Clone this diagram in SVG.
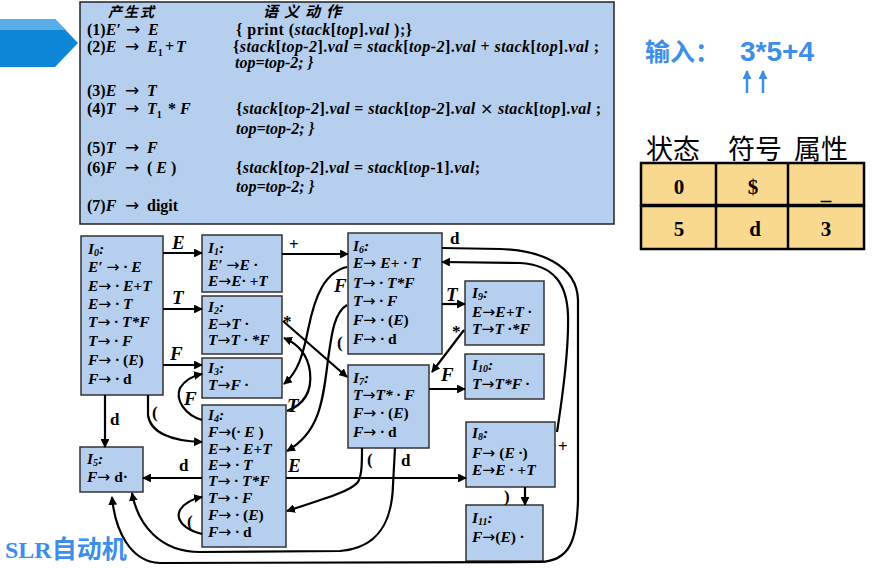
<svg xmlns="http://www.w3.org/2000/svg" width="878" height="568" viewBox="0 0 878 568">
<style>
.bx{fill:#b7cfee;stroke:#333;stroke-width:1.5}
.g{font-family:"Liberation Serif",serif;font-weight:bold;font-size:16px;fill:#000}
.i{font-style:italic}
.nt{font-family:"Liberation Serif",serif;font-weight:bold;font-style:italic;font-size:15.5px;fill:#000}
.u{font-style:normal}
.ar{font-family:"DejaVu Sans",sans-serif;font-weight:normal;font-style:normal}
.sub{font-size:10px}
.edge{fill:none;stroke:#000;stroke-width:2.2;marker-end:url(#arr)}
.el{font-family:"Liberation Serif",serif;font-weight:bold;font-style:italic;font-size:19px;fill:#000}
.elu{font-family:"Liberation Serif",serif;font-weight:bold;font-size:17px;fill:#000}
.cjk{font-family:"Noto Sans CJK SC",sans-serif}
.blue{fill:#3c8ee8}
.cell{fill:#f9d98f;stroke:#000;stroke-width:2.5}
.tv{font-family:"Liberation Serif",serif;font-weight:bold;font-size:21px;text-anchor:middle}
</style>
<defs>
<marker id="arr" viewBox="0 0 10 10" refX="9" refY="5" markerWidth="4" markerHeight="4" orient="auto"><path d="M0,0 L10,5 L0,10 z" fill="#000"/></marker>
<marker id="barr" viewBox="0 0 10 10" refX="9" refY="5" markerWidth="3.6" markerHeight="3.6" orient="auto"><path d="M0,0 L10,5 L0,10 z" fill="#3c8ee8"/></marker>
</defs>

<!-- left blue arrow -->
<g id="pointer">
<polygon points="0,19 55,19 78,43 55,67 0,67" fill="#0e86d6"/>
<polygon points="0,19 55,19 66,30 0,30" fill="#5aaee8"/>
</g>

<!-- grammar box -->
<g id="grammar">
<rect x="80" y="2" width="534" height="222" fill="#b7cfee" stroke="#222" stroke-width="1.5"/>
<text class="cjk" x="108" y="17" font-size="14" font-weight="bold" font-style="italic" letter-spacing="2">产生式</text>
<text class="cjk" x="263" y="17" font-size="15" font-weight="bold" font-style="italic" letter-spacing="6">语义动作</text>
<text class="g" y="35"><tspan x="87">(1)</tspan><tspan class="i">E′</tspan><tspan x="126" class="ar" font-size="17">→</tspan><tspan x="148" class="i">E</tspan></text>
<text class="g" x="236" y="35" textLength="176" lengthAdjust="spacing">{ print (<tspan class="i">stack</tspan>[<tspan class="i">top</tspan>].<tspan class="i">val</tspan> );}</text>
<text class="g" y="52"><tspan x="87">(2)</tspan><tspan class="i">E</tspan><tspan x="125" class="ar" font-size="17">→</tspan><tspan x="147" class="i">E</tspan><tspan class="sub" dy="4">1</tspan><tspan x="165" dy="-4">+</tspan><tspan x="176" class="i">T</tspan></text>
<text class="g" x="233" y="52" textLength="366" lengthAdjust="spacing">{<tspan class="i">stack</tspan>[<tspan class="i">top-2</tspan>].<tspan class="i">val</tspan> = <tspan class="i">stack</tspan>[<tspan class="i">top-2</tspan>].<tspan class="i">val</tspan> + <tspan class="i">stack</tspan>[<tspan class="i">top</tspan>].<tspan class="i">val</tspan> ;</text>
<text class="g i" x="235" y="68">top=top-2; }</text>
<text class="g" y="96"><tspan x="87">(3)</tspan><tspan class="i">E</tspan><tspan x="125" class="ar" font-size="17">→</tspan><tspan x="147" class="i">T</tspan></text>
<text class="g" y="114"><tspan x="87">(4)</tspan><tspan class="i">T</tspan><tspan x="125" class="ar" font-size="17">→</tspan><tspan x="147" class="i">T</tspan><tspan class="sub" dy="4">1</tspan><tspan x="168" dy="-4">*</tspan><tspan x="180" class="i">F</tspan></text>
<text class="g" x="236" y="114" textLength="365" lengthAdjust="spacing">{<tspan class="i">stack</tspan>[<tspan class="i">top-2</tspan>].<tspan class="i">val</tspan> = <tspan class="i">stack</tspan>[<tspan class="i">top-2</tspan>].<tspan class="i">val</tspan> <tspan font-family="'DejaVu Sans',sans-serif" font-weight="normal">×</tspan> <tspan class="i">stack</tspan>[<tspan class="i">top</tspan>].<tspan class="i">val</tspan> ;</text>
<text class="g i" x="236" y="134">top=top-2; }</text>
<text class="g" y="153"><tspan x="87">(5)</tspan><tspan class="i">T</tspan><tspan x="125" class="ar" font-size="17">→</tspan><tspan x="147" class="i">F</tspan></text>
<text class="g" y="173"><tspan x="87">(6)</tspan><tspan class="i">F</tspan><tspan x="125" class="ar" font-size="17">→</tspan><tspan x="147">( </tspan><tspan class="i">E</tspan><tspan> )</tspan></text>
<text class="g" x="236" y="173" textLength="244" lengthAdjust="spacing">{<tspan class="i">stack</tspan>[<tspan class="i">top-2</tspan>].<tspan class="i">val</tspan> = <tspan class="i">stack</tspan>[<tspan class="i">top</tspan>-1].<tspan class="i">val</tspan>;</text>
<text class="g i" x="236" y="192">top=top-2; }</text>
<text class="g" y="211"><tspan x="87">(7)</tspan><tspan class="i">F</tspan><tspan x="125" class="ar" font-size="17">→</tspan><tspan x="147">digit</tspan></text>
</g>

<!-- input -->
<g id="input">
<text x="645" y="61" class="cjk blue" font-size="25" font-weight="bold">输入：</text>
<text x="740" y="61" class="blue" font-family="'Liberation Sans',sans-serif" font-size="28" font-weight="bold">3*5+4</text>
<line x1="747" y1="93" x2="747" y2="71" stroke="#3c8ee8" stroke-width="2.5" marker-end="url(#barr)"/>
<line x1="763" y1="93" x2="763" y2="71" stroke="#3c8ee8" stroke-width="2.5" marker-end="url(#barr)"/>
</g>

<!-- stack table -->
<g id="table">
<text class="cjk" x="646" y="159" font-size="27">状态</text>
<text class="cjk" x="728" y="159" font-size="27">符号</text>
<text class="cjk" x="794" y="159" font-size="27">属性</text>
<rect class="cell" x="641" y="163" width="223" height="42"/>
<rect class="cell" x="641" y="206" width="223" height="43"/>
<line x1="716" y1="163" x2="716" y2="249" stroke="#000" stroke-width="2.5"/>
<line x1="788" y1="163" x2="788" y2="249" stroke="#000" stroke-width="2.5"/>
<text class="tv" x="679" y="194">0</text>
<text class="tv" x="753" y="194">$</text>
<text class="tv" x="826" y="199">_</text>
<text class="tv" x="679" y="236">5</text>
<text class="tv" x="755" y="236">d</text>
<text class="tv" x="826" y="236">3</text>
</g>

<!-- states -->
<g id="I0"><rect class="bx" x="81" y="236" width="82" height="159"/>
<text class="nt" x="88" y="254">I<tspan class="sub" dy="2">0</tspan><tspan dy="-2">:</tspan></text>
<text class="nt" x="88" y="272">E′ <tspan class="ar">→</tspan> · E</text>
<text class="nt" x="88" y="291">E<tspan class="ar">→</tspan> · E+T</text>
<text class="nt" x="88" y="309">E<tspan class="ar">→</tspan> · T</text>
<text class="nt" x="88" y="327">T<tspan class="ar">→</tspan> · T*F</text>
<text class="nt" x="88" y="346">T<tspan class="ar">→</tspan> · F</text>
<text class="nt" x="88" y="365">F<tspan class="ar">→</tspan> · <tspan class="u">(</tspan>E<tspan class="u">)</tspan></text>
<text class="nt" x="88" y="384">F<tspan class="ar">→</tspan> · <tspan class="u">d</tspan></text>
</g>
<g id="I1"><rect class="bx" x="202" y="235" width="80" height="57"/>
<text class="nt" x="208" y="253">I<tspan class="sub" dy="2">1</tspan><tspan dy="-2">:</tspan></text>
<text class="nt" x="208" y="270">E′ <tspan class="ar">→</tspan>E ·</text>
<text class="nt" x="208" y="286">E<tspan class="ar">→</tspan>E· +T</text>
</g>
<g id="I2"><rect class="bx" x="202" y="296" width="80" height="58"/>
<text class="nt" x="208" y="312">I<tspan class="sub" dy="2">2</tspan><tspan dy="-2">:</tspan></text>
<text class="nt" x="208" y="329">E<tspan class="ar">→</tspan>T ·</text>
<text class="nt" x="208" y="345">T<tspan class="ar">→</tspan>T · *F</text>
</g>
<g id="I3"><rect class="bx" x="202" y="358" width="80" height="40"/>
<text class="nt" x="208" y="373">I<tspan class="sub" dy="2">3</tspan><tspan dy="-2">:</tspan></text>
<text class="nt" x="208" y="390">T<tspan class="ar">→</tspan>F ·</text>
</g>
<g id="I4"><rect class="bx" x="202" y="405" width="84" height="142"/>
<text class="nt" x="208" y="420">I<tspan class="sub" dy="2">4</tspan><tspan dy="-2">:</tspan></text>
<text class="nt" x="208" y="437">F<tspan class="ar">→</tspan><tspan class="u">(</tspan>· E <tspan class="u">)</tspan></text>
<text class="nt" x="208" y="454">E<tspan class="ar">→</tspan> · E+T</text>
<text class="nt" x="208" y="470">E<tspan class="ar">→</tspan> · T</text>
<text class="nt" x="208" y="486">T<tspan class="ar">→</tspan> · T*F</text>
<text class="nt" x="208" y="503">T<tspan class="ar">→</tspan> · F</text>
<text class="nt" x="208" y="520">F<tspan class="ar">→</tspan> · <tspan class="u">(</tspan>E<tspan class="u">)</tspan></text>
<text class="nt" x="208" y="537">F<tspan class="ar">→</tspan> · <tspan class="u">d</tspan></text>
</g>
<g id="I5"><rect class="bx" x="80" y="447" width="63" height="45"/>
<text class="nt" x="87" y="464">I<tspan class="sub" dy="2">5</tspan><tspan dy="-2">:</tspan></text>
<text class="nt" x="87" y="482">F<tspan class="ar">→</tspan> <tspan class="u">d·</tspan></text>
</g>
<g id="I6"><rect class="bx" x="348" y="233" width="94" height="121"/>
<text class="nt" x="353" y="251">I<tspan class="sub" dy="2">6</tspan><tspan dy="-2">:</tspan></text>
<text class="nt" x="353" y="268">E<tspan class="ar">→</tspan> E+ · T</text>
<text class="nt" x="353" y="288">T<tspan class="ar">→</tspan> · T*F</text>
<text class="nt" x="353" y="306">T<tspan class="ar">→</tspan> · F</text>
<text class="nt" x="353" y="325">F<tspan class="ar">→</tspan> · <tspan class="u">(</tspan>E<tspan class="u">)</tspan></text>
<text class="nt" x="353" y="344">F<tspan class="ar">→</tspan> · <tspan class="u">d</tspan></text>
</g>
<g id="I7"><rect class="bx" x="348" y="365" width="81" height="83"/>
<text class="nt" x="353" y="383">I<tspan class="sub" dy="2">7</tspan><tspan dy="-2">:</tspan></text>
<text class="nt" x="353" y="400">T<tspan class="ar">→</tspan>T* · F</text>
<text class="nt" x="353" y="418">F<tspan class="ar">→</tspan> · <tspan class="u">(</tspan>E<tspan class="u">)</tspan></text>
<text class="nt" x="353" y="437">F<tspan class="ar">→</tspan> · <tspan class="u">d</tspan></text>
</g>
<g id="I8"><rect class="bx" x="466" y="422" width="89" height="65"/>
<text class="nt" x="472" y="438">I<tspan class="sub" dy="2">8</tspan><tspan dy="-2">:</tspan></text>
<text class="nt" x="472" y="458">F<tspan class="ar">→</tspan> <tspan class="u">(</tspan>E ·<tspan class="u">)</tspan></text>
<text class="nt" x="472" y="475">E<tspan class="ar">→</tspan>E · +T</text>
</g>
<g id="I9"><rect class="bx" x="465" y="281" width="79" height="64"/>
<text class="nt" x="472" y="298">I<tspan class="sub" dy="2">9</tspan><tspan dy="-2">:</tspan></text>
<text class="nt" x="472" y="317">E<tspan class="ar">→</tspan>E+T ·</text>
<text class="nt" x="472" y="334">T<tspan class="ar">→</tspan>T ·*F</text>
</g>
<g id="I10"><rect class="bx" x="465" y="354" width="79" height="45"/>
<text class="nt" x="472" y="370">I<tspan class="sub" dy="2">10</tspan><tspan dy="-2">:</tspan></text>
<text class="nt" x="472" y="389">T<tspan class="ar">→</tspan>T*F ·</text>
</g>
<g id="I11"><rect class="bx" x="466" y="505" width="77" height="56"/>
<text class="nt" x="472" y="523">I<tspan class="sub" dy="2">11</tspan><tspan dy="-2">:</tspan></text>
<text class="nt" x="472" y="542">F<tspan class="ar">→</tspan><tspan class="u">(</tspan>E<tspan class="u">)</tspan> ·</text>
</g>

<!-- connectors -->
<g id="connectors">
<path class="edge" d="M163,253 H202"/>
<path class="edge" d="M163,309 H202"/>
<path class="edge" d="M163,365 H202"/>
<path class="edge" d="M282,254 H348"/>
<path class="edge" d="M442,304 H465"/>
<path class="edge" d="M464,330 L432,372"/>
<path class="edge" d="M429,389 H465"/>
<path class="edge" d="M525,487 V505"/>
<path class="edge" d="M283,321 L347,377"/>
<path class="edge" d="M287,411 C305,404 312,390 310,372 C308,355 298,344 284,338"/>
<path class="edge" d="M347,267 C325,272 315,295 308,330 C303,355 298,372 284,384"/>
<path class="edge" d="M347,305 C335,312 332,330 328,360 C323,400 320,432 287,451"/>
<path class="edge" d="M362,448 C362,462 362,475 358,482 C350,492 320,500 287,511"/>
<path class="edge" d="M395,448 L393,485 C392,520 380,548 340,551 L200,552 C160,552 138,525 132,493"/>
<path class="edge" d="M202,478 H143"/>
<path class="edge" d="M105,395 V447"/>
<path class="edge" d="M148,395 V415 C150,432 170,441 202,442"/>
<path class="edge" d="M202,420 C185,415 175,400 180,388 C185,380 192,376 202,374"/>
<path class="edge" d="M202,534 C185,530 175,520 180,510 C185,502 192,499 202,497"/>
<path class="edge" d="M286,478 H466"/>
<path class="edge" d="M557,432 C562,400 569,350 568,315 C567,285 555,265 520,263 L442,262"/>
<path class="edge" d="M442,248 L500,249 C540,250 577,265 578,300 L578,500 C577,540 570,561 540,562 L160,563 C130,562 115,530 112,497"/>
</g>

<g id="edge-labels">
<text class="el" x="172" y="249">E</text>
<text class="el" x="172" y="304">T</text>
<text class="el" x="170" y="360">F</text>
<text class="elu" x="289" y="250" fill="#000">+</text>
<text class="elu" x="450" y="244">d</text>
<text class="el" x="446" y="301">T</text>
<text class="elu" x="452" y="337" font-size="19">*</text>
<text class="el" x="441" y="381">F</text>
<text class="elu" x="504" y="502">)</text>
<text class="elu" x="283" y="327" font-size="15">*</text>
<text class="el" x="334" y="292">F</text>
<text class="elu" x="337" y="348">(</text>
<text class="el" x="287" y="412">T</text>
<text class="elu" x="367" y="465">(</text>
<text class="elu" x="401" y="466">d</text>
<text class="el" x="288" y="472">E</text>
<text class="elu" x="558" y="452" font-size="20">+</text>
<text class="elu" x="179" y="471">d</text>
<text class="elu" x="110" y="425">d</text>
<text class="elu" x="152" y="418">(</text>
<text class="el" x="184" y="405">F</text>
<text class="elu" x="187" y="527">(</text>
</g>

<text x="5" y="558" class="blue" font-family="'Liberation Serif',serif" font-size="24" font-weight="bold">SLR<tspan class="cjk" font-size="25">自动机</tspan></text>
</svg>
